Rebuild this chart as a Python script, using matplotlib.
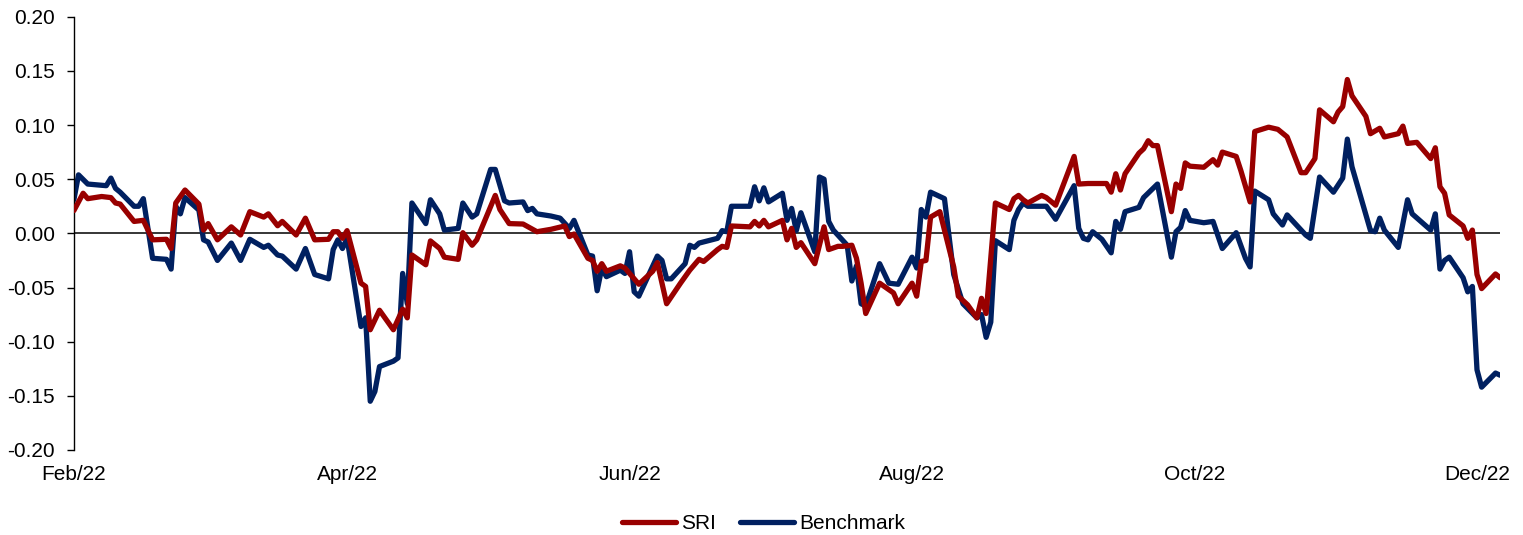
import matplotlib
matplotlib.use("Agg")
import matplotlib.pyplot as plt
import matplotlib.dates as mdates
import matplotlib.ticker as mticker
import numpy as np
import pandas as pd

plt.rcParams['font.family'] = ['Liberation Sans', 'DejaVu Sans']

# ---------------- data ----------------
sri_dates = ["02-01", "02-03", "02-04", "02-07", "02-09", "02-10", "02-11", "02-14", "02-16", "02-18",
             "02-21", "02-22", "02-23", "02-25", "02-28", "03-01", "03-02", "03-04", "03-07", "03-09",
             "03-11", "03-14", "03-15", "03-17", "03-18", "03-21", "03-23", "03-25", "03-28", "03-29",
             "03-30", "03-31", "04-01", "04-04", "04-05", "04-06", "04-08", "04-11", "04-13", "04-14",
             "04-15", "04-18", "04-19", "04-21", "04-22", "04-25", "04-26", "04-28", "04-29", "05-03",
             "05-04", "05-06", "05-09", "05-12", "05-15", "05-18", "05-19", "05-20", "05-23", "05-24",
             "05-25", "05-26", "05-27", "05-30", "05-31", "06-03", "06-06", "06-07", "06-09", "06-12",
             "06-14", "06-16", "06-17", "06-20", "06-21", "06-22", "06-23", "06-27", "06-28", "06-29",
             "06-30", "07-01", "07-04", "07-05", "07-06", "07-07", "07-08", "07-11", "07-13", "07-14",
             "07-16", "07-17", "07-19", "07-20", "07-21", "07-22", "07-25", "07-27", "07-28", "07-29",
             "08-01", "08-02", "08-03", "08-04", "08-05", "08-07", "08-10", "08-11", "08-13", "08-15",
             "08-16", "08-17", "08-19", "08-22", "08-23", "08-24", "08-25", "08-26", "08-29", "08-30",
             "09-01", "09-05", "09-06", "09-08", "09-12", "09-13", "09-14", "09-15", "09-16", "09-19",
             "09-20", "09-21", "09-22", "09-23", "09-26", "09-27", "09-28", "09-29", "09-30", "10-03",
             "10-05", "10-06", "10-07", "10-10", "10-11", "10-13", "10-14", "10-17", "10-19", "10-21",
             "10-24", "10-25", "10-27", "10-28", "10-31", "11-01", "11-02", "11-03", "11-04", "11-07",
             "11-08", "11-10", "11-11", "11-14", "11-15", "11-16", "11-18", "11-21", "11-22", "11-23",
             "11-24", "11-25", "11-28", "11-29", "11-30", "12-01", "12-02", "12-05", "12-06"]
sri_values = [0.021, 0.037, 0.032, 0.034, 0.033, 0.028, 0.027, 0.011, 0.012, -0.006,
              -0.0055, -0.014, 0.028, 0.040, 0.027, 0.003, 0.009, -0.006, 0.006, -0.0015,
              0.020, 0.015, 0.018, 0.007, 0.011, -0.0015, 0.014, -0.006, -0.0055, 0.0015,
              0.0015, -0.0046, 0.0025, -0.046, -0.049, -0.089, -0.071, -0.089, -0.070, -0.078,
              -0.020, -0.029, -0.007, -0.014, -0.022, -0.024, 0.0006, -0.011, -0.006, 0.035,
              0.022, 0.009, 0.0086, 0.0015, 0.0037, 0.0068, -0.003, -0.0006, -0.023, -0.025,
              -0.035, -0.028, -0.035, -0.030, -0.032, -0.047, -0.035, -0.027, -0.065, -0.046,
              -0.034, -0.024, -0.026, -0.015, -0.012, -0.013, 0.0068, 0.006, 0.011, 0.0068,
              0.012, 0.006, 0.012, -0.006, 0.0046, -0.013, -0.0086, -0.028, 0.006, -0.015,
              -0.012, -0.012, -0.011, -0.023, -0.046, -0.074, -0.046, -0.052, -0.055, -0.065,
              -0.046, -0.058, -0.026, -0.025, 0.015, 0.020, -0.031, -0.058, -0.066, -0.078,
              -0.060, -0.074, 0.028, 0.022, 0.032, 0.035, 0.031, 0.028, 0.035, 0.033,
              0.026, 0.071, 0.0455, 0.046, 0.046, 0.038, 0.055, 0.040, 0.055, 0.074,
              0.078, 0.0855, 0.081, 0.081, 0.020, 0.0455, 0.0415, 0.065, 0.062, 0.061,
              0.068, 0.063, 0.075, 0.071, 0.058, 0.029, 0.094, 0.098, 0.096, 0.089,
              0.056, 0.056, 0.069, 0.114, 0.103, 0.112, 0.117, 0.142, 0.127, 0.108,
              0.092, 0.097, 0.089, 0.092, 0.099, 0.083, 0.084, 0.069, 0.079, 0.043,
              0.037, 0.017, 0.0068, -0.0046, 0.003, -0.038, -0.051, -0.0375, -0.041]

bench_dates = ["02-01", "02-02", "02-04", "02-08", "02-09", "02-10", "02-11", "02-14", "02-15", "02-16",
               "02-18", "02-21", "02-22", "02-23", "02-24", "02-25", "02-28", "03-01", "03-02", "03-04",
               "03-07", "03-09", "03-11", "03-14", "03-15", "03-17", "03-18", "03-21", "03-23", "03-25",
               "03-28", "03-29", "03-30", "03-31", "04-01", "04-04", "04-05", "04-06", "04-07", "04-08",
               "04-11", "04-12", "04-13", "04-14", "04-15", "04-18", "04-19", "04-21", "04-22", "04-25",
               "04-26", "04-28", "04-29", "05-02", "05-03", "05-05", "05-06", "05-09", "05-10", "05-11",
               "05-12", "05-15", "05-17", "05-19", "05-20", "05-23", "05-24", "05-25", "05-26", "05-27",
               "05-30", "05-31", "06-01", "06-02", "06-03", "06-07", "06-08", "06-09", "06-10", "06-13",
               "06-14", "06-15", "06-16", "06-20", "06-21", "06-22", "06-23", "06-27", "06-28", "06-29",
               "06-30", "07-01", "07-04", "07-05", "07-06", "07-07", "07-08", "07-11", "07-12", "07-13",
               "07-14", "07-15", "07-18", "07-19", "07-20", "07-21", "07-22", "07-25", "07-27", "07-29",
               "08-01", "08-02", "08-03", "08-04", "08-05", "08-08", "08-10", "08-12", "08-15", "08-16",
               "08-17", "08-18", "08-19", "08-22", "08-23", "08-24", "08-25", "08-26", "08-30", "09-01",
               "09-05", "09-06", "09-07", "09-08", "09-09", "09-11", "09-13", "09-14", "09-15", "09-16",
               "09-19", "09-20", "09-23", "09-26", "09-27", "09-28", "09-29", "09-30", "10-03", "10-05",
               "10-07", "10-10", "10-12", "10-13", "10-14", "10-17", "10-18", "10-20", "10-21", "10-25",
               "10-26", "10-28", "10-31", "11-02", "11-03", "11-04", "11-08", "11-09", "11-10", "11-11",
               "11-14", "11-16", "11-17", "11-21", "11-22", "11-23", "11-24", "11-25", "11-28", "11-29",
               "11-30", "12-01", "12-02", "12-05", "12-06"]
bench_values = [0.031, 0.054, 0.0455, 0.044, 0.051, 0.0415, 0.038, 0.025, 0.025, 0.032,
                -0.023, -0.024, -0.033, 0.025, 0.018, 0.033, 0.0215, -0.006, -0.008, -0.025,
                -0.009, -0.025, -0.0055, -0.013, -0.011, -0.020, -0.021, -0.033, -0.014, -0.038,
                -0.042, -0.015, -0.006, -0.014, -0.0046, -0.086, -0.078, -0.155, -0.146, -0.123,
                -0.118, -0.115, -0.037, -0.065, 0.028, 0.009, 0.031, 0.018, 0.003, 0.0046,
                0.028, 0.015, 0.018, 0.059, 0.059, 0.030, 0.028, 0.029, 0.021, 0.023,
                0.018, 0.016, 0.014, 0.0046, 0.012, -0.020, -0.021, -0.053, -0.032, -0.040,
                -0.034, -0.037, -0.017, -0.054, -0.058, -0.021, -0.025, -0.042, -0.042, -0.028,
                -0.011, -0.013, -0.009, -0.0046, 0.0025, 0.0015, 0.025, 0.025, 0.043, 0.030,
                0.042, 0.029, 0.037, 0.012, 0.023, 0.0025, 0.019, -0.017, 0.052, 0.050,
                0.011, 0.003, -0.011, -0.044, -0.030, -0.065, -0.067, -0.028, -0.046, -0.047,
                -0.022, -0.032, 0.022, 0.015, 0.038, 0.032, -0.038, -0.065, -0.078, -0.075,
                -0.096, -0.082, -0.0068, -0.015, 0.012, 0.022, 0.028, 0.025, 0.025, 0.013,
                0.044, 0.0046, -0.0046, -0.006, 0.0015, -0.0055, -0.018, 0.011, 0.0037, 0.020,
                0.024, 0.033, 0.0455, -0.022, 0.0015, 0.0055, 0.021, 0.012, 0.0098, 0.011,
                -0.014, 0.0006, -0.023, -0.031, 0.039, 0.031, 0.018, 0.0077, 0.017, -0.0015,
                -0.0046, 0.052, 0.038, 0.051, 0.087, 0.0615, 0.0025, 0.0015, 0.014, 0.003,
                -0.013, 0.031, 0.018, 0.003, 0.018, -0.033, -0.025, -0.022, -0.041, -0.054,
                -0.049, -0.126, -0.142, -0.129, -0.131]

series_names = ["SRI", "Benchmark"]
x_tick_dates = ["2022-02-01", "2022-04-01", "2022-06-01", "2022-08-01", "2022-10-01", "2022-12-01"]
y_ticks = [-0.20, -0.15, -0.10, -0.05, 0.00, 0.05, 0.10, 0.15, 0.20]

# ---------------- plot ----------------
sri_x = pd.to_datetime(["2022-" + d for d in sri_dates])
bench_x = pd.to_datetime(["2022-" + d for d in bench_dates])

fig = plt.figure(figsize=(15.23, 5.35), dpi=100)
ax = fig.add_axes([0.0485, 0.1589, 0.9850 - 0.0485, 0.9688 - 0.1589])

ax.axhline(0, color='black', lw=1.1, zorder=1)
ax.plot(sri_x, sri_values, color='#990000', lw=3.8, solid_joinstyle='round',
        solid_capstyle='round', label=series_names[0], zorder=3)
ax.plot(bench_x, bench_values, color='#002060', lw=3.8, solid_joinstyle='round',
        solid_capstyle='round', label=series_names[1], zorder=2)

ax.set_ylim(-0.20, 0.20)
ax.set_yticks(y_ticks)
ax.yaxis.set_major_formatter(mticker.FormatStrFormatter('%.2f'))
ax.set_xlim(sri_x.min(), max(sri_x.max(), bench_x.max()))
ax.set_xticks(pd.to_datetime(x_tick_dates))
ax.xaxis.set_major_formatter(mdates.DateFormatter('%b/%y'))

for s in ['top', 'right', 'bottom']:
    ax.spines[s].set_visible(False)
ax.spines['left'].set_color('black')
ax.spines['left'].set_linewidth(1.0)

ax.tick_params(axis='y', direction='out', length=5, width=1.0, pad=8.5,
               labelsize=15, colors='black')
ax.tick_params(axis='x', length=0, pad=11, labelsize=15, colors='black')

fig.legend(loc='center', bbox_to_anchor=(0.5013, 0.0206), ncol=2, frameon=False,
           fontsize=15, handlelength=2.6, handletextpad=0.25, columnspacing=1.15,
           borderpad=0, borderaxespad=0)

fig.savefig('out.png', dpi=100)
